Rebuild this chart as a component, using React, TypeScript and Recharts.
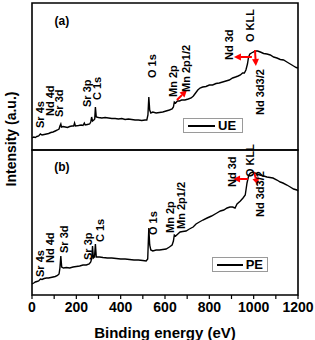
import React from 'react';
import { LineChart, Line, XAxis, YAxis, ReferenceDot, ReferenceLine, ReferenceArea, Legend } from 'recharts';

// binding energy (eV) and intensity (a.u.)
const energyA = [0, 8, 15, 22, 30, 38, 45, 55, 65, 75, 85, 95, 105, 115, 122, 126, 130, 133, 140, 150, 160, 170, 180, 188, 192, 196, 210, 222, 230, 236, 240, 250, 260, 265, 269, 273, 279, 283, 286, 290, 300, 315, 330, 345, 360, 375, 390, 405, 420, 435, 450, 465, 480, 495, 510, 518, 523, 527, 531, 536, 545, 560, 575, 590, 605, 620, 632, 638, 642, 648, 656, 665, 675, 690, 705, 718, 728, 738, 748, 758, 770, 785, 800, 815, 830, 845, 860, 875, 890, 905, 918, 930, 940, 950, 958, 965, 972, 977, 983, 990, 998, 1007, 1018, 1030, 1045, 1060, 1075, 1090, 1105, 1120, 1135, 1150, 1165, 1180, 1192, 1200];
const intensityA = [12, 13, 12.5, 13.5, 14, 16, 15, 15.5, 16, 16.5, 17.5, 18, 19, 20, 21, 24, 26, 23, 23.5, 23, 22.5, 23.5, 24, 24, 27, 24, 24.5, 25, 24.5, 27, 25, 25.5, 26, 28, 33, 29, 30, 31, 43, 33, 32.5, 32, 32.5, 32, 31.5, 31.5, 31, 31.5, 30.5, 31, 30.5, 30, 30, 29.5, 30, 30, 35, 53, 40, 37, 38, 37, 37.5, 38, 39, 40, 41, 43, 48, 47, 49, 49, 50, 50, 51, 52, 54, 57, 60, 62, 63, 63.5, 65, 65, 66.5, 67, 68, 69, 70, 72, 73, 74, 75, 77, 77, 80, 86, 93, 96, 97, 98, 99, 99, 98, 96.5, 96, 95, 93, 92, 90.5, 90, 88, 86, 84, 82.5, 82];

const energyB = [0, 8, 15, 22, 30, 38, 45, 55, 65, 75, 85, 95, 105, 115, 122, 126, 130, 134, 142, 155, 170, 185, 200, 215, 230, 245, 258, 265, 270, 273, 277, 282, 286, 290, 305, 320, 340, 360, 380, 400, 420, 440, 460, 480, 500, 515, 522, 527, 531, 536, 545, 560, 575, 590, 605, 620, 632, 638, 642, 648, 658, 668, 680, 695, 710, 727, 740, 755, 771, 790, 810, 834, 850, 865, 880, 893, 905, 916, 925, 940, 952, 962, 970, 978, 985, 995, 1005, 1015, 1028, 1045, 1060, 1087, 1105, 1120, 1132, 1150, 1165, 1180, 1195, 1200];
const intensityB = [11, 12, 13, 13.5, 14, 16, 15.5, 16.5, 17, 17, 17.5, 18, 18.5, 19.5, 21, 27, 39, 28, 27, 27.5, 27, 28, 28.5, 29, 30, 30, 31, 33, 37, 49, 37, 38, 51, 38, 38, 37.5, 37, 37, 36.5, 36, 36, 35.5, 35, 35, 34.5, 34, 36, 67, 50, 45, 44, 45, 45, 45.5, 46, 48, 50, 54, 60, 59, 61, 63, 63.5, 64, 66, 68, 71, 73, 75, 77, 79, 82, 84, 85, 87, 88, 88, 87, 91, 94, 97, 100, 112, 120, 122, 123, 122, 121, 120, 119, 118, 117, 115, 113, 112, 110, 108, 106, 105, 104];

const xTicks = [0, 100, 200, 300, 400, 500, 600, 700, 800, 900, 1000, 1100, 1200];

// peak labels: text, energy and intensity where the label starts
const peakNames = ['Sr 4s', 'Nd 4d', 'Sr 3d', 'Sr 3p', 'C 1s', 'O 1s', 'Mn 2p', 'Mn 2p1/2', 'Nd 3d', 'O KLL', 'Nd 3d3/2'];
const peakEvA = [36, 81, 122, 248, 293, 541, 636, 695, 889, 983, 1029];
const peakValA = [22, 34, 33, 43, 50, 72, 53, 58, 90, 108, 35];
const peakEvB = [36, 81, 144, 253, 307, 546, 623, 672, 902, 983, 1029];
const peakValB = [18, 32, 42, 35, 53, 60, 62, 66, 108, 118, 78];

// red arrows [fromEv, fromVal, toEv, toVal]
const arrowsA = [[654, 50, 699, 60], [992, 93, 911, 93], [1006, 100, 1010, 84]];
const arrowsB = [[974, 116, 907, 116], [1001, 123, 1019, 110]];

const dataA = energyA.map((e, i) => ({ e, v: intensityA[i] }));
const dataB = energyB.map((e, i) => ({ e, v: intensityB[i] }));

const FONT = '"Liberation Sans", Arial, sans-serif';
const FRAME = 1.6;

const PeakLabel = (text: string) => (p: any) => (
  <text
    x={p.cx}
    y={p.cy}
    transform={`rotate(-90 ${p.cx} ${p.cy})`}
    dy="0.35em"
    textAnchor="start"
    fontFamily={FONT}
    fontWeight="bold"
    fontSize={11}
    fill="#000"
  >
    {text}
  </text>
);

const PanelTag = (text: string) => (p: any) => (
  <text x={p.cx} y={p.cy} dy="0.35em" textAnchor="middle" fontFamily={FONT} fontWeight="bold" fontSize={12} fill="#000">
    {text}
  </text>
);

const Arrow = (p: any) => {
  const { x1, y1, x2, y2 } = p;
  const a = Math.atan2(y2 - y1, x2 - x1);
  const L = 7;
  const W = 3.5;
  const bx = x2 - L * Math.cos(a);
  const by = y2 - L * Math.sin(a);
  const pts = `${x2},${y2} ${bx - W * Math.sin(a)},${by + W * Math.cos(a)} ${bx + W * Math.sin(a)},${by - W * Math.cos(a)}`;
  return (
    <g>
      <line x1={x1} y1={y1} x2={bx} y2={by} stroke="#ff0000" strokeWidth={2} />
      <polygon points={pts} fill="#ff0000" />
    </g>
  );
};

const legendBox = (name: string) => () => (
  <div
    style={{
      display: 'flex',
      alignItems: 'center',
      border: '1px solid #9a9a9a',
      height: 15,
      boxSizing: 'border-box',
      padding: '0 4px',
      fontFamily: FONT,
      fontWeight: 'bold',
      fontSize: 13,
      lineHeight: '13px',
      background: '#fff',
    }}
  >
    <span style={{ display: 'inline-block', width: 27, height: 2, background: '#000', marginRight: 3 }} />
    <span>{name}</span>
  </div>
);

function Panel({ data, evs, vals, arrows, tag, name, legendPos, yMax, bottom }: any) {
  return (
    <LineChart
      width={315}
      height={bottom ? 210 : 152}
      data={data}
      margin={bottom ? { top: 20, right: 17, bottom: 0, left: 32 } : { top: 3, right: 17, bottom: 2, left: 32 }}
    >
      <XAxis
        dataKey="e"
        type="number"
        domain={[0, 1200]}
        ticks={xTicks}
        interval={0}
        orientation="bottom"
        height={bottom ? 45 : 0}
        tick={bottom ? { fontFamily: FONT, fontWeight: 'bold', fontSize: 14, fill: '#000' } : false}
        tickFormatter={(v: number) => (v % 200 === 0 ? String(v) : '')}
        tickSize={bottom ? 4 : 0}
        tickMargin={3}
        tickLine={bottom ? { stroke: '#000', strokeWidth: 1.2 } : false}
        axisLine={false}
        label={
          bottom
            ? { value: 'Binding energy (eV)', position: 'insideBottom', offset: 2, fontFamily: FONT, fontWeight: 'bold', fontSize: 15, fill: '#000' }
            : undefined
        }
      />
      <YAxis type="number" domain={[0, yMax]} width={0} tick={false} tickLine={false} axisLine={false} />
      <ReferenceArea x1={0} x2={1200} y1={0} y2={yMax} fill="none" stroke="#000" strokeWidth={FRAME} ifOverflow="visible" />
      <Line dataKey="v" type="linear" stroke="#000" strokeWidth={1.4} dot={false} isAnimationActive={false} />
      {peakNames.map((t, i) => (
        <ReferenceDot key={t} x={evs[i]} y={vals[i]} r={0} ifOverflow="visible" shape={PeakLabel(t)} />
      ))}
      <ReferenceDot x={135} y={bottom ? 128 : 129} r={0} ifOverflow="visible" shape={PanelTag(tag)} />
      {arrows.map((a: number[], i: number) => (
        <ReferenceLine
          key={i}
          segment={[{ x: a[0], y: a[1] }, { x: a[2], y: a[3] }]}
          ifOverflow="visible"
          shape={Arrow}
        />
      ))}
      <Legend
        layout="horizontal"
        verticalAlign="middle"
        align="center"
        content={legendBox(name)}
        wrapperStyle={{ left: legendPos[0], top: legendPos[1], width: legendPos[2], height: 15 }}
      />
    </LineChart>
  );
}

export default function App() {
  return (
    <div style={{ position: 'absolute', left: 0, top: 0, width: 315, height: 340, background: '#fff', overflow: 'hidden' }}>
      <div style={{ position: 'absolute', left: 0, top: 0 }}>
        <Panel data={dataA} evs={peakEvA} vals={peakValA} arrows={arrowsA} tag="(a)" name="UE" legendPos={[183, 118, 60]} yMax={147} bottom={false} />
      </div>
      <div style={{ position: 'absolute', left: 0, top: 130 }}>
        <Panel data={dataB} evs={peakEvB} vals={peakValB} arrows={arrowsB} tag="(b)" name="PE" legendPos={[212, 127, 56]} yMax={145} bottom={true} />
      </div>
      <div
        style={{
          position: 'absolute',
          left: 11 - 60,
          top: 139 - 8,
          width: 120,
          height: 16,
          lineHeight: '16px',
          textAlign: 'center',
          transform: 'rotate(-90deg)',
          fontFamily: FONT,
          fontWeight: 'bold',
          fontSize: 14,
        }}
      >
        Intensity (a.u.)
      </div>
    </div>
  );
}
